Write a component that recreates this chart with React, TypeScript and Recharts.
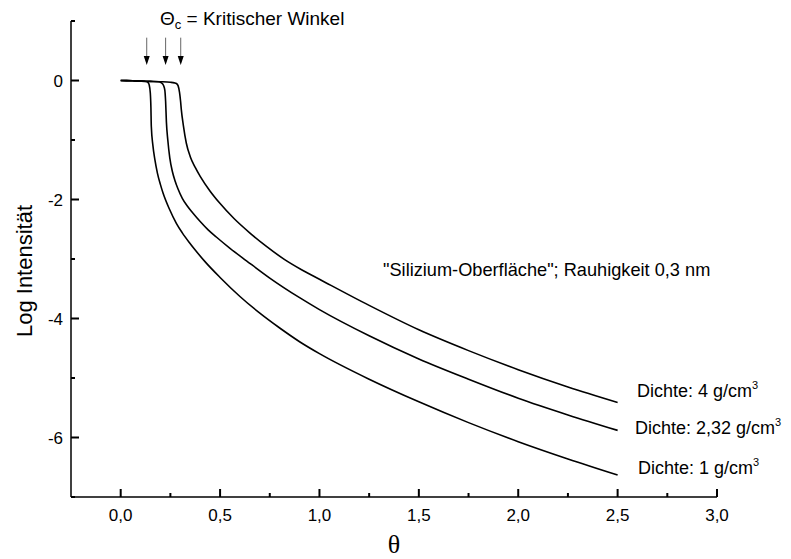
import { LineChart, Line, XAxis, YAxis, ReferenceLine } from 'recharts';

// Dichte 1 g/cm3
const thetaD1 = [0, 0.06, 0.1, 0.12, 0.13, 0.137, 0.143, 0.149, 0.152, 0.154, 0.162, 0.172, 0.185, 0.2, 0.213, 0.245, 0.28, 0.31, 0.347, 0.38, 0.423, 0.5, 0.6, 0.7, 0.8, 0.9, 1.0, 1.25, 1.5, 1.75, 2.0, 2.25, 2.5];
const logD1 = [0, -0.005, -0.01, -0.015, -0.02, -0.03, -0.07, -0.21, -0.45, -0.77, -1.09, -1.33, -1.56, -1.75, -1.89, -2.16, -2.4, -2.56, -2.73, -2.87, -3.04, -3.31, -3.63, -3.91, -4.16, -4.39, -4.59, -5.02, -5.4, -5.75, -6.07, -6.36, -6.63];

// Dichte 2,32 g/cm3
const thetaD232 = [0, 0.06, 0.1, 0.15, 0.19, 0.205, 0.215, 0.222, 0.226, 0.23, 0.237, 0.247, 0.26, 0.275, 0.288, 0.31, 0.335, 0.364, 0.4, 0.44, 0.481, 0.55, 0.633, 0.75, 0.9, 1.0, 1.25, 1.5, 1.75, 2.0, 2.25, 2.5];
const logD232 = [0, -0.005, -0.01, -0.015, -0.02, -0.04, -0.08, -0.16, -0.35, -0.7, -1.0, -1.3, -1.53, -1.7, -1.82, -1.98, -2.11, -2.23, -2.37, -2.51, -2.63, -2.82, -3.03, -3.32, -3.65, -3.85, -4.29, -4.68, -5.02, -5.34, -5.62, -5.88];

// Dichte 4 g/cm3
const thetaD4 = [0, 0.06, 0.1, 0.15, 0.2, 0.25, 0.27, 0.28, 0.289, 0.296, 0.301, 0.305, 0.315, 0.33, 0.35, 0.375, 0.4, 0.45, 0.498, 0.57, 0.649, 0.73, 0.825, 0.91, 1.0, 1.25, 1.5, 1.75, 2.0, 2.25, 2.5];
const logD4 = [0, -0.005, -0.01, -0.015, -0.02, -0.03, -0.04, -0.05, -0.09, -0.2, -0.34, -0.49, -0.75, -1.05, -1.28, -1.46, -1.61, -1.86, -2.06, -2.32, -2.56, -2.78, -3.01, -3.18, -3.34, -3.78, -4.19, -4.54, -4.86, -5.15, -5.41];

// kritische Winkel (Pfeile)
const criticalAngles = [0.131, 0.226, 0.302];

const xTicks = [0, 0.25, 0.5, 0.75, 1, 1.25, 1.5, 1.75, 2, 2.25, 2.5, 2.75, 3];
const yTicks = [-7, -6, -5, -4, -3, -2, -1, 0, 1];

const toRows = (t: number[], v: number[]) => t.map((x, i) => ({ t: x, v: v[i] }));

const FONT = '"Liberation Sans", Arial, sans-serif';

// ticks point inwards, minor ticks without label
function XTick(props: any) {
  const x = Number(props.x);
  const y = Number(props.y);
  const val = Number(props.payload.value);
  const major = Math.abs(val * 2 - Math.round(val * 2)) < 1e-6;
  const len = major ? 8 : 4;
  return (
    <g>
      <rect x={x - 1} y={y - len} width={2} height={len} fill="#000" stroke="none" />
      {major && (
        <text x={x} y={y + 24} textAnchor="middle" fontSize={17} fontFamily={FONT} fill="#000" stroke="none">
          {val.toFixed(1).replace('.', ',')}
        </text>
      )}
    </g>
  );
}

function YTick(props: any) {
  const x = Number(props.x);
  const y = Number(props.y);
  const val = Number(props.payload.value);
  const major = Math.abs(val % 2) < 1e-6;
  const len = major ? 8 : 4;
  return (
    <g>
      <rect x={x} y={y - 1} width={len} height={2} fill="#000" stroke="none" />
      {major && (
        <text x={x - 8} y={y + 6} textAnchor="end" fontSize={17} fontFamily={FONT} fill="#000" stroke="none">
          {String(val)}
        </text>
      )}
    </g>
  );
}

function Arrow(props: any) {
  const { x1, y1, x2, y2 } = props;
  return (
    <g>
      <line x1={x1} y1={y1} x2={x2} y2={y2 - 7} stroke="#666" strokeWidth={1} />
      <polygon points={`${x2 - 3},${y2 - 9} ${x2 + 3},${y2 - 9} ${x2},${y2}`} fill="#000" />
    </g>
  );
}

export default function App() {
  return (
    <div style={{ position: 'absolute', left: 0, top: 0, width: 791, height: 559, background: '#fff' }}>
      <LineChart width={791} height={559} margin={{ top: 21, right: 74, bottom: 0, left: 0 }}>
        <XAxis
          type="number"
          dataKey="t"
          domain={[-0.25, 3]}
          ticks={xTicks}
          interval={0}
          tickSize={0}
          tickMargin={0}
          tickLine={false}
          tick={<XTick />}
          height={62}
          axisLine={{ stroke: '#000', strokeWidth: 1.5 }}
          allowDataOverflow
        />
        <YAxis
          type="number"
          domain={[-7, 1]}
          ticks={yTicks}
          interval={0}
          tickSize={0}
          tickMargin={0}
          tickLine={false}
          tick={<YTick />}
          width={71}
          axisLine={{ stroke: '#000', strokeWidth: 1.5 }}
          allowDataOverflow
        />
        {criticalAngles.map((a) => (
          <ReferenceLine
            key={a}
            segment={[{ x: a, y: 0.72 }, { x: a, y: 0.26 }]}
            shape={<Arrow />}
          />
        ))}
        <Line data={toRows(thetaD1, logD1)} dataKey="v" type="monotone" stroke="#000" strokeWidth={1.6} dot={false} isAnimationActive={false} />
        <Line data={toRows(thetaD232, logD232)} dataKey="v" type="monotone" stroke="#000" strokeWidth={1.6} dot={false} isAnimationActive={false} />
        <Line data={toRows(thetaD4, logD4)} dataKey="v" type="monotone" stroke="#000" strokeWidth={1.6} dot={false} isAnimationActive={false} />
      </LineChart>
      <svg width={791} height={559} style={{ position: 'absolute', left: 0, top: 0, pointerEvents: 'none' }} fontFamily={FONT} fill="#000">
        <text x={160} y={25} fontSize={19}>
          Θ<tspan dy={4} fontSize={13}>c</tspan>
          <tspan dy={-4}> = Kritischer Winkel</tspan>
        </text>
        <text x={383} y={276} fontSize={18.2}>"Silizium-Oberfläche"; Rauhigkeit 0,3 nm</text>
        <text x={637} y={397} fontSize={18}>
          Dichte: 4 g/cm<tspan dy={-8} fontSize={11}>3</tspan>
        </text>
        <text x={635} y={434} fontSize={18}>
          Dichte: 2,32 g/cm<tspan dy={-8} fontSize={11}>3</tspan>
        </text>
        <text x={638} y={474} fontSize={18}>
          Dichte: 1 g/cm<tspan dy={-8} fontSize={11}>3</tspan>
        </text>
        <text transform="translate(32,271) rotate(-90)" textAnchor="middle" fontSize={22}>
          Log Intensität
        </text>
        <text x={394} y={553} textAnchor="middle" fontSize={26} fontFamily='"Liberation Serif", "Times New Roman", serif'>
          θ
        </text>
      </svg>
    </div>
  );
}
